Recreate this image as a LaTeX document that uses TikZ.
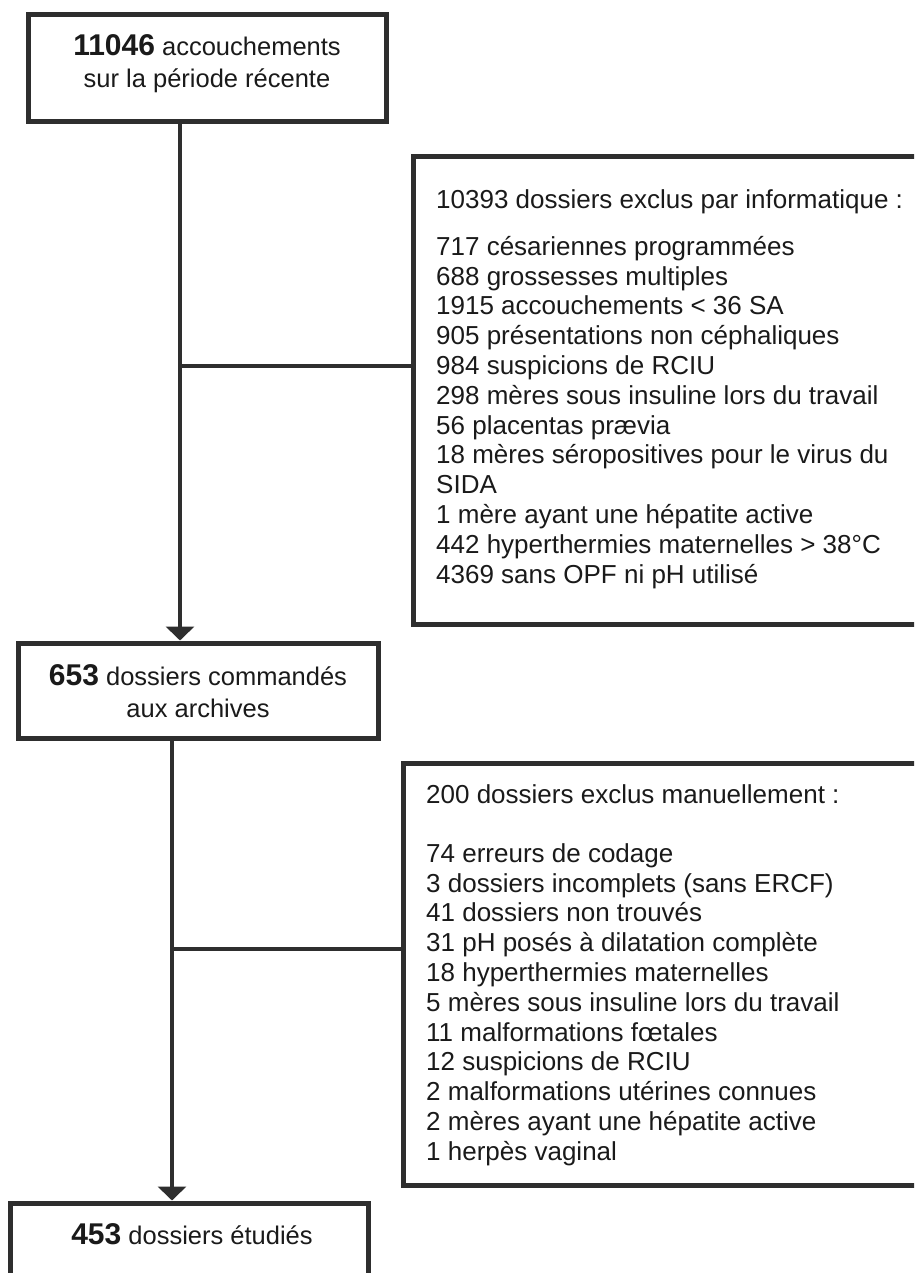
\documentclass[tikz,border=0pt]{standalone}
\usepackage{fontspec}
\setmainfont{Liberation Sans}
\usetikzlibrary{arrows.meta}
\definecolor{ink}{HTML}{2E2E2E}
\definecolor{txt}{HTML}{1A1A1A}
\newcommand{\topstrut}{\rule{0pt}{20pt}}
\newcommand{\bigstrut}{\rule{0pt}{22pt}}
\newcommand{\num}[1]{\textbf{\fontsize{30}{32}\selectfont #1}}
\begin{document}
\begin{tikzpicture}[x=1pt,y=-1pt,
  frame/.style={draw=ink, line width=5pt, rectangle, inner sep=0pt},
  link/.style={draw=ink, line width=4.5pt},
  arr/.style={link, -{Triangle[width=28pt,length=14pt]}},
  lbl/.style={inner sep=0pt, text=txt, font=\fontsize{25.5}{32}\selectfont},
  lst/.style={inner sep=0pt, text=txt, align=left, font=\fontsize{26}{29.8}\selectfont}]
\useasboundingbox (0,0) rectangle (914,1273);
\fill[white] (0,0) rectangle (914,1273);
\begin{scope}
\clip (0,0) rectangle (914,1273);
% boxes (centre, size of stroke centre line)
\node[frame, minimum width=358pt, minimum height=107pt] (A) at (207,68.5) {};
\node[frame, minimum width=527pt, minimum height=467pt] (C) at (676.5,390.5) {};
\node[frame, minimum width=360pt, minimum height=95pt] (B) at (198,690.5) {};
\node[frame, minimum width=537pt, minimum height=422pt] (D) at (671.5,974) {};
\node[frame, minimum width=358pt, minimum height=90pt] (E) at (189,1248) {};
% texts
\node[lbl, align=center, anchor=north] (At) at (207,33)
  {\bigstrut\num{11046} accouchements\\sur la période récente};
\node[lbl, align=center, anchor=north] (Bt) at (198,663)
  {\bigstrut\num{653} dossiers commandés\\aux archives};
\node[lbl, anchor=base] (Et) at (192,1244) {\num{453} dossiers étudiés};
\node[lst, anchor=north west] (Ct) at (436,188)
  {\topstrut 10393 dossiers exclus par informatique :\\[17.2pt]
   717 césariennes programmées\\
   688 grossesses multiples\\
   1915 accouchements < 36 SA\\
   905 présentations non céphaliques\\
   984 suspicions de RCIU\\
   298 mères sous insuline lors du travail\\
   56 placentas prævia\\
   18 mères séropositives pour le virus du\\
   SIDA\\
   1 mère ayant une hépatite active\\
   442 hyperthermies maternelles > 38°C\\
   4369 sans OPF ni pH utilisé};
\node[lst, anchor=north west] (Dt) at (426,783)
  {\topstrut 200 dossiers exclus manuellement :\\[29.2pt]
   74 erreurs de codage\\
   3 dossiers incomplets (sans ERCF)\\
   41 dossiers non trouvés\\
   31 pH posés à dilatation complète\\
   18 hyperthermies maternelles\\
   5 mères sous insuline lors du travail\\
   11 malformations fœtales\\
   12 suspicions de RCIU\\
   2 malformations utérines connues\\
   2 mères ayant une hépatite active\\
   1 herpès vaginal};
% connectors
\coordinate (j1) at (180,366);
\coordinate (j2) at (172,949);
\draw[arr] ([xshift=-27pt]A.south) -- ([xshift=-27pt]A.south |- B.north);
\draw[link] (j1) -- (j1 -| C.west);
\draw[arr] ([xshift=-26pt]B.south) -- ([xshift=-26pt]B.south |- E.north);
\draw[link] (j2) -- (j2 -| D.west);
\end{scope}
\end{tikzpicture}
\end{document}
